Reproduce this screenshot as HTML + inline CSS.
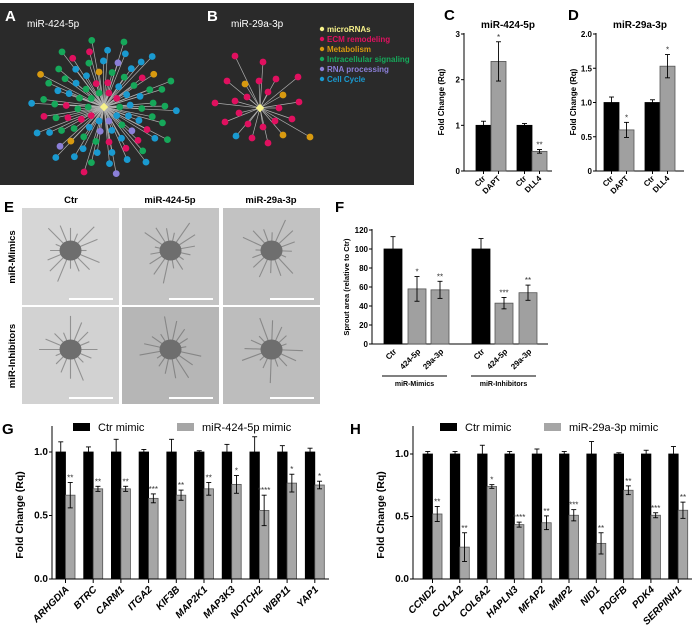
<!DOCTYPE html>
<html><head><meta charset="utf-8"><style>
html,body{margin:0;padding:0;background:#fff;}
svg{display:block;font-family:"Liberation Sans",Arial,sans-serif;}
</style></head><body>
<svg id="fig" width="699" height="644" viewBox="0 0 699 644" xmlns="http://www.w3.org/2000/svg">
<rect x="0" y="3" width="414" height="182" fill="#2a2a2a"/>
<g id="net"></g>
<text x="5" y="21" fill="#fff" font-size="15" font-weight="bold">A</text>
<text x="27" y="27" fill="#fff" font-size="10">miR-424-5p</text>
<text x="207" y="21" fill="#fff" font-size="15" font-weight="bold">B</text>
<text x="231" y="27" fill="#fff" font-size="10">miR-29a-3p</text>
<g id="netlegend" font-size="8" font-weight="bold"></g>

<text x="444" y="20" font-size="15" font-weight="bold">C</text>
<text x="568" y="20" font-size="15" font-weight="bold">D</text>
<text x="4" y="212" font-size="15" font-weight="bold">E</text>
<text x="335" y="212" font-size="15" font-weight="bold">F</text>
<text x="2" y="434" font-size="15" font-weight="bold">G</text>
<text x="350" y="434" font-size="15" font-weight="bold">H</text>
<g id="micro"></g>
<g id="charts"></g>
</svg>
<script>
// ---------- data ----------
const cCats = ["Ctr","DAPT","Ctr","DLL4"];
const cVals = [1.0,2.4,1.0,0.43];
const cErr = [0.09,0.43,0.04,0.04];
const cStars = ["","*","","**"];
const dVals = [1.0,0.6,1.0,1.53];
const dErr = [0.08,0.11,0.04,0.17];
const dStars = ["","*","","*"];
const fCats = ["Ctr","424-5p","29a-3p","Ctr","424-5p","29a-3p"];
const fVals = [100,58,57,100,43,54];
const fErr = [13,13,9,11,6,8];
const fStars = ["","*","**","","***","**"];
const gGenes = ["ARHGDIA","BTRC","CARM1","ITGA2","KIF3B","MAP2K1","MAP3K3","NOTCH2","WBP11","YAP1"];
const gCtrErr = [0.08,0.04,0.10,0.02,0.10,0.01,0.06,0.12,0.05,0.03];
const gMimic = [0.66,0.71,0.71,0.635,0.66,0.71,0.745,0.54,0.755,0.74];
const gMimicErr = [0.10,0.02,0.02,0.035,0.04,0.05,0.07,0.12,0.07,0.03];
const gStars = ["**","**","**","***","**","**","*","****","*","*"];
const hGenes = ["CCND2","COL1A2","COL6A2","HAPLN3","MFAP2","MMP2","NID1","PDGFB","PDK4","SERPINH1"];
const hCtrErr = [0.02,0.02,0.07,0.02,0.04,0.02,0.10,0.01,0.03,0.06];
const hMimic = [0.52,0.255,0.74,0.435,0.45,0.51,0.285,0.71,0.51,0.55];
const hMimicErr = [0.06,0.115,0.015,0.02,0.055,0.045,0.085,0.035,0.02,0.065];
const hStars = ["**","**","*","****","**","***","**","**","***","**"];
const ticksC = ["0","1","2","3"];
const ticksD = ["0","0.5","1.0","1.5","2.0"];
const ticksF = ["0","20","40","60","80","100","120"];
const ticksGH = ["0.0","0.5","1.0"];

const NS="http://www.w3.org/2000/svg";
function mk(tag,attrs,parent,text){const e=document.createElementNS(NS,tag);for(const k in attrs)e.setAttribute(k,attrs[k]);if(text!==undefined)e.textContent=text;parent.appendChild(e);return e;}
const charts=document.getElementById('charts');

// ---------- network ----------
const net=document.getElementById('net');
const COL={pink:"#e0105f",orange:"#d89a10",green:"#16a85a",purple:"#8b7fd8",blue:"#1a9ad0"};
function drawNet(cx,cy,nodes){
  nodes.forEach(n=>{const l=mk('line',{x1:cx,y1:cy,x2:n[0],y2:n[1],stroke:"#b0b0b0","stroke-width":0.7},net);
    
    });
  nodes.forEach(n=>{const c=mk('circle',{cx:n[0],cy:n[1],r:3.4,fill:COL[n[2]]},net);
    
    });
  const d=mk('rect',{x:cx-3,y:cy-3,width:6,height:6,fill:"#f7f28a",transform:`rotate(45 ${cx} ${cy})`},net);
  
  
}
const aNodes=[];
const palette=["green","blue","green","pink","blue","green","green","blue","pink","green","blue","orange","green","blue","purple","green","pink","blue","green","blue"];
const rings=[[15,10],[25,14],[36,18],[47,21],[58,21],[69,14]];
let k=0;
rings.forEach((r,ri)=>{for(let i=0;i<r[1];i++){const a=(i/r[1])*Math.PI*2+ri*0.37;
  aNodes.push([104+Math.cos(a)*r[0]*1.05,107+Math.sin(a)*r[0]*0.98,palette[(k*7+ri*3)%palette.length]]);k++;}});
drawNet(104,107,aNodes);
const bNodes=[[235,56,"pink"],[263,62,"pink"],[227,81,"pink"],[245,84,"orange"],[259,81,"pink"],[276,79,"pink"],[298,77,"pink"],[268,92,"pink"],[283,95,"orange"],[215,103,"pink"],[235,101,"pink"],[247,97,"pink"],[299,102,"pink"],[239,113,"pink"],[279,108,"pink"],[225,122,"pink"],[248,124,"pink"],[263,127,"pink"],[275,121,"pink"],[292,119,"pink"],[236,136,"blue"],[252,138,"pink"],[268,143,"pink"],[283,135,"orange"],[310,137,"orange"]];
drawNet(260,108,bNodes);
const nl=document.getElementById('netlegend');
[["microRNAs","#f7f28a"],["ECM remodeling",COL.pink],["Metabolism",COL.orange],["Intracellular signaling",COL.green],["RNA processing",COL.purple],["Cell Cycle",COL.blue]].forEach((e,i)=>{
  const y=29+i*10;
  const c=mk('circle',{cx:322,cy:y,r:2.2,fill:e[1]},nl);
  
  
  const t=mk('text',{x:327,y:y+3,fill:e[1]},nl,e[0]);
  
  
});

// ---------- microscopy ----------
const micro=document.getElementById('micro');
const cols=[["Ctr",22,71],["miR-424-5p",122,170],["miR-29a-3p",223,271]];
const rowsY=[208,307];
const shades=[["#d6d6d6","#c4c4c4","#c2c2c2"],["#d2d2d2","#b6b6b6","#bdbdbd"]];
cols.forEach((c,ci)=>{
  const t=mk('text',{x:c[2],y:203,"text-anchor":"middle","font-size":"9.5","font-weight":"bold"},micro,c[0]);
  
  
  rowsY.forEach((ry,ri)=>{
    const w=97,h=97;
    const r=mk('rect',{x:c[1],y:ry,width:w,height:h,fill:shades[ri][ci]},micro);
    
    
    const cx=c[1]+w/2, cy=ry+h/2-6;
    for(let s=0;s<16;s++){const a=s/16*Math.PI*2+ci;const L=16+((s*7+ci*3+ri*5)%9)*2.2;
      const ln=mk('line',{x1:cx,y1:cy,x2:cx+Math.cos(a)*L,y2:cy+Math.sin(a)*L,stroke:"#666","stroke-width":1.1,opacity:0.6},micro);
      
      }
    const b=mk('ellipse',{cx:cx,cy:cy,rx:11,ry:10,fill:"#6e6e6e"},micro);
    
    
    const sb=mk('rect',{x:c[1]+47,y:ry+90,width:44,height:2,fill:"#fff"},micro);
    
    
  });
});
[["miR-Mimics",257],["miR-Inhibitors",356]].forEach(r=>{
  const t=mk('text',{x:15,y:r[1],transform:`rotate(-90 15 ${r[1]})`,"text-anchor":"middle","font-size":"9.5","font-weight":"bold"},micro,r[0]);
  
  
});

// ---------- helpers ----------
function yAxis(g,x,y0,yTop,max,ticks,fs){
  const sc=v=>y0-(v/max)*(y0-yTop);
  const ax=mk('line',{x1:x,y1:y0,x2:x,y2:yTop-1,stroke:"#000","stroke-width":1},g);
  
  
  ticks.forEach(t=>{const v=parseFloat(t);const y=sc(v);
    mk('line',{x1:x-3,y1:y,x2:x,y2:y,stroke:"#000"},g);
    const tl=mk('text',{x:x-4,y:y+3,"text-anchor":"end","font-size":fs,"font-weight":"bold"},g,t);
    
    });
  return sc;
}
function bar(g,x,w,v,err,sc,fill,name,star,starFs){
  const y=sc(v),y0=sc(0);
  const r=mk('rect',{x:x,y:y,width:w,height:y0-y,fill:fill,stroke:fill==="#000"?"#000":"#555","stroke-width":0.8},g);
  
  
  const cx=x+w/2,ye=sc(v+err),yl=sc(Math.max(0,v-err));
  mk('line',{x1:cx,y1:ye,x2:cx,y2:yl,stroke:"#000","stroke-width":0.9},g);
  mk('line',{x1:cx-2.5,y1:ye,x2:cx+2.5,y2:ye,stroke:"#000","stroke-width":0.9},g);
  mk('line',{x1:cx-2.5,y1:yl,x2:cx+2.5,y2:yl,stroke:"#000","stroke-width":0.9},g);
  if(star){const s=mk('text',{x:cx,y:ye-2,"text-anchor":"middle","font-size":starFs,fill:"#333"},g,star);
    
    }
}
function rotLabel(g,x,y,txt,fs,italic){
  const t=mk('text',{x:x,y:y,transform:`rotate(-45 ${x} ${y})`,"text-anchor":"end","font-size":fs,"font-weight":"bold","font-style":italic?"italic":"normal"},g,txt);
  
  
}
function yTitle(g,x,y,txt,fs){
  const t=mk('text',{x:x,y:y,transform:`rotate(-90 ${x} ${y})`,"text-anchor":"middle","font-size":fs,"font-weight":"bold"},g,txt);
  
  
}

// ---------- C & D ----------
function smallChart(ax,x0,max,ticks,vals,errs,stars,title){
  const g=mk('g',{},charts);
  
  
  const sc=yAxis(g,ax,171,34,max,ticks,8);
  mk('line',{x1:ax,y1:171,x2:ax+88,y2:171,stroke:"#000"},g);
  const xs=[x0,x0+15,x0+41,x0+56];
  vals.forEach((v,i)=>{bar(g,xs[i],15,v,errs[i],sc,i%2?"#a0a0a0":"#000","bar-"+cCats[i].toLowerCase(),stars[i],8);
    mk('line',{x1:xs[i]+7.5,y1:171,x2:xs[i]+7.5,y2:174,stroke:"#000"},g);
    rotLabel(g,xs[i]+10,179,cCats[i],8,false);});
  const t=mk('text',{x:ax+44,y:28,"text-anchor":"middle","font-size":"10","font-weight":"bold"},g,title);
  
  
  yTitle(g,ax-20,102,"Fold Change (Rq)",8);
}
smallChart(464,476,3,ticksC,cVals,cErr,cStars,"miR-424-5p");
smallChart(596,604,2,ticksD,dVals,dErr,dStars,"miR-29a-3p");

// ---------- F ----------
(function(){
  const g=mk('g',{},charts);
  
  
  const sc=yAxis(g,372,344,230,120,ticksF,8);
  mk('line',{x1:372,y1:344,x2:548,y2:344,stroke:"#000"},g);
  const xs=[384,408,431,472,495,519];
  fVals.forEach((v,i)=>{bar(g,xs[i],18,v,fErr[i],sc,(i%3===0)?"#000":"#a0a0a0","bar-"+fCats[i],fStars[i],8);
    rotLabel(g,xs[i]+13,352,fCats[i],8,false);});
  [["miR-Mimics",382,447],["miR-Inhibitors",471,536]].forEach(gr=>{
    mk('line',{x1:gr[1],y1:376,x2:gr[2],y2:376,stroke:"#000"},g);
    const t=mk('text',{x:(gr[1]+gr[2])/2,y:386,"text-anchor":"middle","font-size":"7","font-weight":"bold"},g,gr[0]);
    
    });
  yTitle(g,349,287,"Sprout area (relative to Ctr)",7.5);
})();

// ---------- G & H ----------
function bigChart(ax,x0,step,y1px,genes,ctrErr,mim,mimErr,stars,legendText,lx){
  const g=mk('g',{},charts);
  
  
  const sc=yAxis(g,ax,579,y1px,1.0,ticksGH,10);
  mk('line',{x1:ax,y1:y1px,x2:ax,y2:426,stroke:"#000"},g);
  const w=9.5;
  genes.forEach((gn,i)=>{const x=x0+i*step;
    bar(g,x,w,1.0,ctrErr[i],sc,"#000","bar-ctr-"+gn,"",8);
    bar(g,x+w,w,mim[i],mimErr[i],sc,"#a6a6a6","bar-mimic-"+gn,stars[i],8);
    mk('line',{x1:x+w,y1:579,x2:x+w,y2:583,stroke:"#000"},g);
    rotLabel(g,x+w+4,590,gn,10,true);});
  mk('line',{x1:ax,y1:579,x2:x0+genes.length*step-4,y2:579,stroke:"#000"},g);
  const s1=mk('rect',{x:lx,y:423,width:17,height:8,fill:"#000"},g);
  
  
  const t1=mk('text',{x:lx+25,y:431,"font-size":"11"},g,"Ctr mimic");
  
  
  const s2=mk('rect',{x:lx+104,y:423,width:17,height:8,fill:"#a6a6a6"},g);
  
  
  const t2=mk('text',{x:lx+129,y:431,"font-size":"11"},g,legendText);
  
  
  yTitle(g,ax-29,515,"Fold Change (Rq)",10.5);
}
bigChart(52,56,27.7,452,gGenes,gCtrErr,gMimic,gMimicErr,gStars,"miR-424-5p mimic",73);
bigChart(413,423,27.3,454,hGenes,hCtrErr,hMimic,hMimicErr,hStars,"miR-29a-3p mimic",440);
</script>
</body></html>
